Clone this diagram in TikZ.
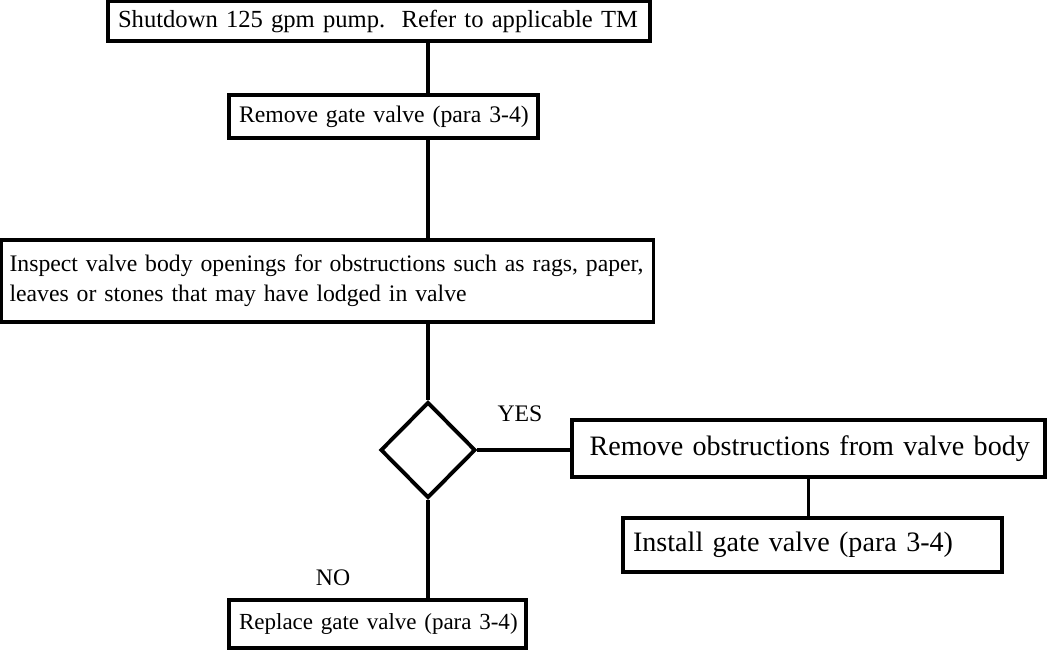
\documentclass[tikz,border=0pt]{standalone}
\usepackage{fontspec}
\setmainfont{Liberation Serif}
\usetikzlibrary{shapes.geometric}

\tikzset{
  box/.style={draw, line width=2pt, inner xsep=0.2cm, inner ysep=0pt, align=left,
    font=\fontsize{#1}{17}\selectfont},
  box/.default=13.5,
  decision/.style={draw, diamond, line width=2.2pt, inner sep=0pt},
  link/.style={line width=2pt},
  tag/.style={font=\fontsize{13.5}{17}\selectfont}
}

\begin{document}
\begin{tikzpicture}[x=0.02cm,y=-0.02cm]
    \useasboundingbox (0,0) rectangle (1047,656);
    % steps
    \node[box=14, text width=10.44cm, minimum height=0.8cm] (shut) at (379,21) {\mbox{Shutdown 125 gpm pump.\ \ Refer to applicable TM}};
    \node[box, text width=5.78cm, minimum height=0.86cm] (remove) at (383.5,116.5) {\mbox{Remove gate valve (para 3-4)}};
    \node[box, inner xsep=0.16cm, text width=12.72cm, minimum height=1.64cm] (inspect) at (327.5,281) {\mbox{Inspect valve body openings for obstructions such as rags, paper,}\\ \mbox{leaves or stones that may have lodged in valve}};
    \node[decision, minimum width=1.9cm, minimum height=1.92cm] (check) at (428,450) {};
    \node[box=16, inner xsep=0.35cm, text width=8.76cm, minimum height=1.14cm] (clear) at (808.5,448.5) {\mbox{Remove obstructions from valve body}};
    \node[box=16, text width=7.18cm, minimum height=1.08cm] (install) at (812.5,545) {\mbox{Install gate valve (para 3-4)}};
    \node[box=13.1, text width=5.54cm, minimum height=0.96cm] (replace) at (377.5,624) {\mbox{Replace gate valve (para 3-4)}};
    % answers
    \node[tag] (yes) at (520,414) {YES};
    \node[tag] (no) at (333,578) {NO};
    % connectors
    \draw[link] (shut.south -| check.north) -- (remove.north -| check.north);
    \draw[link] (remove.south -| check.north) -- (inspect.north -| check.north);
    \draw[link] (inspect.south -| check.north) -- (check.north);
    \draw[link] (check.east) -- (clear.west |- check.east);
    \draw[link] (clear.south) -- (clear.south |- install.north);
    \draw[link] (check.south) -- (replace.north -| check.south);
\end{tikzpicture}
\end{document}
